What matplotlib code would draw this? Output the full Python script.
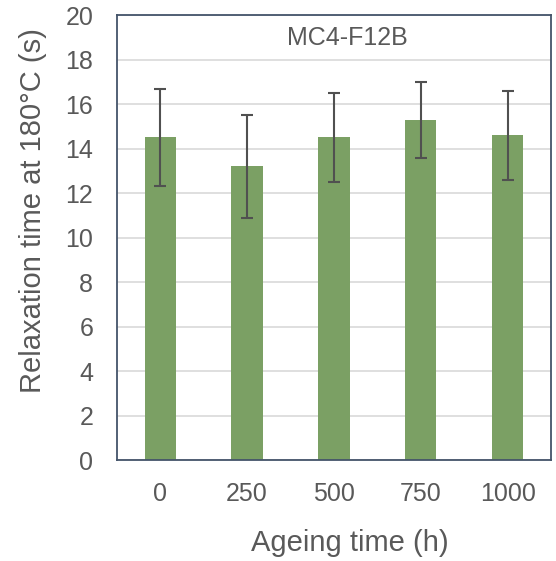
import matplotlib
matplotlib.use("Agg")
import matplotlib.pyplot as plt

plt.rcParams['font.family'] = ['Liberation Sans', 'DejaVu Sans']

ageing = ["0", "250", "500", "750", "1000"]
relax = [14.5, 13.2, 14.5, 15.3, 14.6]
err = [2.2, 2.3, 2.0, 1.7, 2.0]

fig = plt.figure(figsize=(5.56, 5.61), dpi=100)
ax = fig.add_axes([0.21, 0.18, 0.781, 0.793])

x = range(len(ageing))
ax.bar(x, relax, width=0.36, color="#7ba064", zorder=2)
ax.errorbar(x, relax, yerr=err, fmt="none", ecolor="#505050", elinewidth=1.5,
            capsize=4.5, capthick=1.5, zorder=3)

ax.set_xlim(-0.5, len(ageing) - 0.5)
ax.set_ylim(0, 20)
ax.set_yticks(range(0, 21, 2))
ax.set_xticks(list(x))
ax.set_xticklabels(ageing)
ax.yaxis.grid(True, color="#d9d9d9", linewidth=1.2, zorder=0)
ax.set_axisbelow(True)
ax.tick_params(length=0, labelsize=18, labelcolor="#595959")
ax.tick_params(axis='y', pad=17)
ax.tick_params(axis='x', pad=16)
for s in ax.spines.values():
    s.set_color("#44546a")
    s.set_linewidth(1.3)

ax.text(0.53, 0.975, "MC4-F12B", transform=ax.transAxes, ha="center", va="top",
        fontsize=18, color="#595959")
ax.set_xlabel("Ageing time (h)", fontsize=21, color="#595959")
ax.set_ylabel("Relaxation time at 180\u00b0C (s)", fontsize=21, color="#595959")
ax.xaxis.set_label_coords(0.536, -0.155)
ax.yaxis.set_label_coords(-0.16, 0.56)

fig.savefig("out.png", dpi=100)
